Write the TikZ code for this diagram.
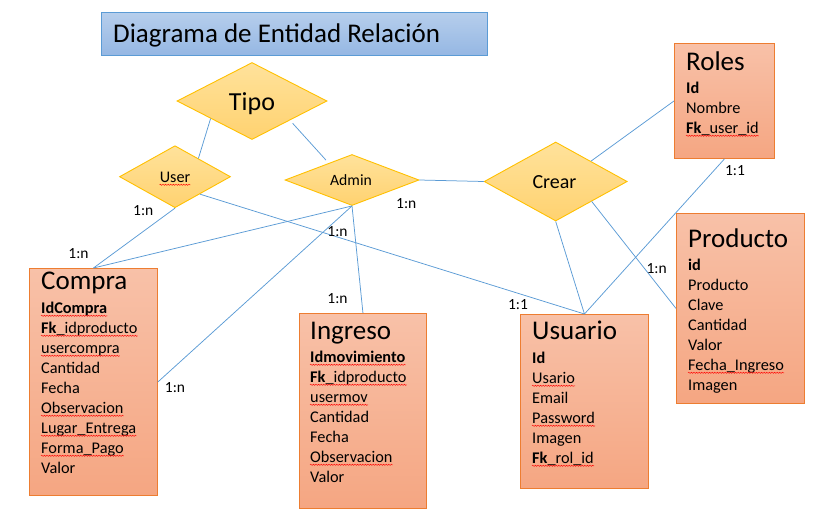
\documentclass[tikz,border=0pt]{standalone}
\usepackage{fontspec}
\setmainfont{Carlito}
\usetikzlibrary{shapes.geometric,decorations.pathmorphing}
\definecolor{entT}{RGB}{248,193,168}
\definecolor{entB}{RGB}{245,166,130}
\definecolor{entline}{RGB}{237,125,49}
\definecolor{relT}{RGB}{255,226,155}
\definecolor{relB}{RGB}{255,210,112}
\definecolor{relline}{RGB}{255,192,0}
\definecolor{titT}{RGB}{182,206,236}
\definecolor{titB}{RGB}{149,183,227}
\definecolor{titline}{RGB}{91,155,213}
\definecolor{connc}{RGB}{91,155,213}
\tikzset{
  entity/.style={draw=entline, line width=0.9pt, top color=entT, bottom color=entB, anchor=north west, inner sep=0pt},
  relation/.style={diamond, draw=relline, line width=0.9pt, top color=relT, bottom color=relB, inner sep=0pt},
  titlebox/.style={draw=titline, line width=0.9pt, top color=titT, bottom color=titB, anchor=north west, inner sep=0pt},
  attrtext/.style={anchor=base west, inner sep=0pt, font=\fontsize{16.3}{20}\selectfont},
  enttitle/.style={anchor=base west, inner sep=0pt, font=\fontsize{27}{32}\selectfont},
  card/.style={anchor=base, inner sep=0pt, font=\fontsize{15.5}{18}\selectfont},
  conn/.style={draw=connc, line width=0.75pt},
  squig/.style={draw=red, line width=0.45pt, decorate, decoration={snake, amplitude=0.6pt, segment length=2.6pt}}
}
\newcommand\attr[4]{\node[attrtext] (#1) at (#2,#3) {#4};}
\newcommand\attrsq[4]{\node[attrtext] (#1) at (#2,#3) {#4};
  \draw[squig] ([yshift=-2.8pt]#1.base west) -- ([yshift=-2.8pt]#1.base east);}
\begin{document}
\begin{tikzpicture}[x=1pt,y=-1pt]
\useasboundingbox (0,0) rectangle (836,531);
% title
\node[titlebox, minimum width=386pt, minimum height=43pt] (title) at (101,12) {};
\node[anchor=base west, inner sep=0pt, font=\fontsize{27}{32}\selectfont] (titletext) at (113,42.3) {Diagrama de Entidad Relación};
% relations
\node[relation, minimum width=150pt, minimum height=77pt] (tipo) at (252,101) {};
\node[anchor=base, inner sep=0pt, font=\fontsize{26}{30}\selectfont] (tipot) at (252,110) {Tipo};
\node[relation, minimum width=111pt, minimum height=62pt] (user) at (175,176.7) {};
\node[anchor=base, inner sep=0pt, font=\fontsize{16.2}{19}\selectfont] (usert) at (175,182) {User};
\draw[squig] ([yshift=-2.8pt]usert.base west) -- ([yshift=-2.8pt]usert.base east);
\node[relation, minimum width=134pt, minimum height=51pt] (admin) at (352,180) {};
\node[anchor=base, inner sep=0pt, font=\fontsize{15.7}{19}\selectfont] (admint) at (351,185) {Admin};
\node[relation, minimum width=143pt, minimum height=79pt] (crear) at (555.7,181.5) {};
\node[anchor=base, inner sep=0pt, font=\fontsize{20}{24}\selectfont] (creart) at (554.5,188.3) {Crear};
% entities
\node[entity, minimum width=128pt, minimum height=227pt] (compra) at (29,268) {};
\node[enttitle] (compra-t) at (41,289) {Compra};
\attrsq{compra-1}{41}{313}{\textbf{IdCompra}}
\attrsq{compra-2}{41}{333}{\textbf{Fk}\_idproducto}
\attrsq{compra-3}{41}{353}{usercompra}
\attr{compra-4}{41}{373}{Cantidad}
\attr{compra-5}{41}{393}{Fecha}
\attrsq{compra-6}{41}{413}{Observacion}
\attrsq{compra-7}{41}{433}{Lugar\_Entrega}
\attrsq{compra-8}{41}{453}{Forma\_Pago}
\attr{compra-9}{41}{473}{Valor}

\node[entity, minimum width=127pt, minimum height=195pt] (ingreso) at (299,313) {};
\node[enttitle] (ingreso-t) at (310,339) {Ingreso};
\attrsq{ingreso-1}{310}{362}{\textbf{Idmovimiento}}
\attrsq{ingreso-2}{310}{382}{\textbf{Fk}\_idproducto}
\attrsq{ingreso-3}{310}{402}{usermov}
\attr{ingreso-4}{310}{422}{Cantidad}
\attr{ingreso-5}{310}{442}{Fecha}
\attrsq{ingreso-6}{310}{462}{Observacion}
\attr{ingreso-7}{310}{482}{Valor}

\node[entity, minimum width=128pt, minimum height=174pt] (usuario) at (520,314) {};
\node[enttitle] (usuario-t) at (532,339) {Usuario};
\attr{usuario-1}{532}{363}{\textbf{Id}}
\attrsq{usuario-2}{532}{383}{Usario}
\attr{usuario-3}{532}{403}{Email}
\attrsq{usuario-4}{532}{423}{Password}
\attr{usuario-5}{532}{443}{Imagen}
\attrsq{usuario-6}{532}{463}{\textbf{Fk}\_rol\_id}

\node[entity, minimum width=128pt, minimum height=190pt] (producto) at (676,213) {};
\node[enttitle] (producto-t) at (688,247) {Producto};
\attr{producto-1}{688}{270}{\textbf{id}}
\attr{producto-2}{688}{290}{Producto}
\attr{producto-3}{688}{310}{Clave}
\attr{producto-4}{688}{330}{Cantidad}
\attr{producto-5}{688}{350}{Valor}
\attrsq{producto-6}{688}{370}{Fecha\_Ingreso}
\attr{producto-7}{688}{390}{Imagen}

\node[entity, minimum width=100pt, minimum height=115pt] (roles) at (674,43) {};
\node[enttitle] (roles-t) at (686,70) {Roles};
\attr{roles-1}{686}{93}{\textbf{Id}}
\attr{roles-2}{686}{113}{Nombre}
\attrsq{roles-3}{686}{133}{\textbf{Fk}\_user\_id}
% connectors
\draw[conn] (tipo.203) -- (user.38);
\draw[conn, shorten <=4pt, shorten >=4pt] (tipo.333) -- (admin.144);
\draw[conn] (user.south) -- (compra.north);
\draw[conn] (user.325) -- (usuario.north);
\draw[conn] (admin.south) -- (compra.north);
\draw[conn] (admin.south) -- (compra.east);
\draw[conn] (admin.south) -- (ingreso.north);
\draw[conn] (admin.east) -- (crear.west);
\draw[conn] (crear.30) -- (roles.west);
\draw[conn] (crear.south) -- (usuario.north);
\draw[conn] (crear.331) -- (producto.west);
\draw[conn] (roles.south) -- (usuario.north);
% cardinalities
\node[card] (c1) at (143.3,215) {1:n};
\node[card] (c2) at (78.5,258.3) {1:n};
\node[card] (c3) at (406.3,208.3) {1:n};
\node[card] (c4) at (337.5,236.7) {1:n};
\node[card] (c5) at (337.5,303) {1:n};
\node[card] (c6) at (175,392.7) {1:n};
\node[card] (c7) at (656.7,273.3) {1:n};
\node[card] (c8) at (518,309.3) {1:1};
\node[card] (c9) at (735,175) {1:1};
\end{tikzpicture}
\end{document}
